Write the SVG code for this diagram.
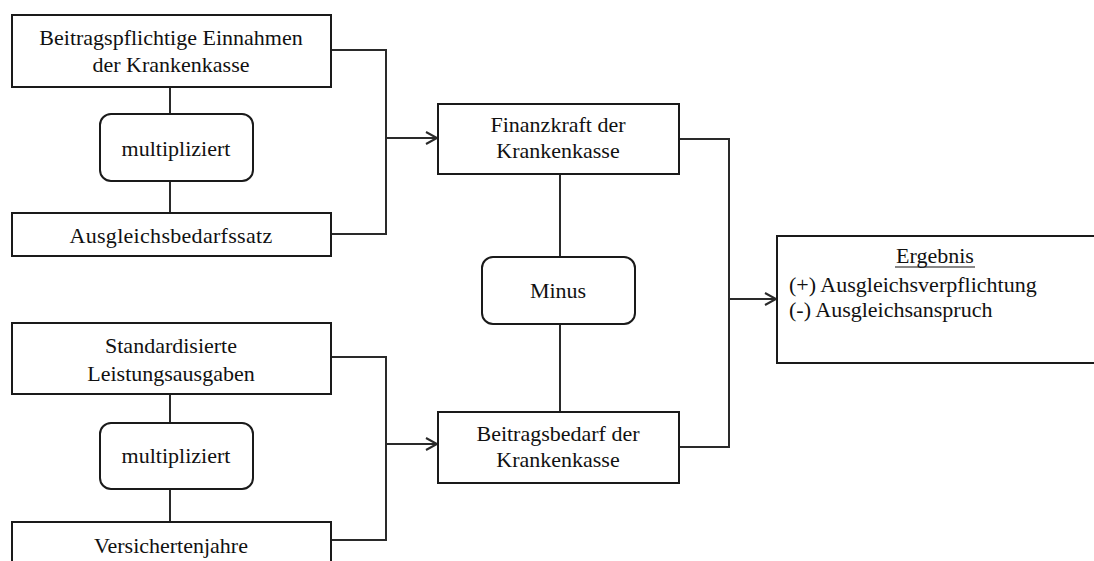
<svg xmlns="http://www.w3.org/2000/svg" width="1094" height="561" viewBox="0 0 1094 561">
<defs>
<style>
.box{fill:#fff;stroke:#1a1a1a;stroke-width:2}
text{font-family:'Liberation Serif','DejaVu Serif',serif;font-size:22px;fill:#111}
.t{text-anchor:middle}
.c{fill:none;stroke:#2a2a2a;stroke-width:2}
</style>
<marker id="arr" markerUnits="userSpaceOnUse" markerWidth="16" markerHeight="16" refX="12" refY="7" orient="auto">
<path d="M1,1 L12,7 L1,13" fill="none" stroke="#2a2a2a" stroke-width="2"/>
</marker>
</defs>
<rect width="1094" height="561" fill="#fff"/>
<g id="connectors">
<path class="c" d="M170,87 V114 M170,181 V213"/>
<path class="c" d="M170,394 V423 M170,489 V522"/>
<path class="c" d="M560,174 V257 M560,324 V412"/>
<path class="c" d="M331,50 H386 V234 H331"/>
<path class="c" d="M386,138 H437" marker-end="url(#arr)"/>
<path class="c" d="M331,357 H386 V540 H331"/>
<path class="c" d="M386,444 H437" marker-end="url(#arr)"/>
<path class="c" d="M679,139 H729 V447 H679"/>
<path class="c" d="M729,299 H776" marker-end="url(#arr)"/>
</g>
<g id="n1">
<rect class="box" x="12" y="15" width="319" height="72"/>
<text class="t" x="171" y="45">Beitragspflichtige  Einnahmen</text>
<text class="t" x="171" y="72">der Krankenkasse</text>
</g>
<g id="n2">
<rect class="box" x="100" y="114" width="153" height="67" rx="11"/>
<text class="t" x="176" y="156">multipliziert</text>
</g>
<g id="n3">
<rect class="box" x="12" y="213" width="319" height="43"/>
<text class="t" x="171" y="243" letter-spacing="0.3">Ausgleichsbedarfssatz</text>
</g>
<g id="n4">
<rect class="box" x="12" y="323" width="319" height="71"/>
<text class="t" x="171" y="353">Standardisierte</text>
<text class="t" x="171" y="381">Leistungsausgaben</text>
</g>
<g id="n5">
<rect class="box" x="100" y="423" width="153" height="66" rx="11"/>
<text class="t" x="176" y="463">multipliziert</text>
</g>
<g id="n6">
<rect class="box" x="12" y="522" width="319" height="50"/>
<text class="t" x="171" y="553">Versichertenjahre</text>
</g>
<g id="n7">
<rect class="box" x="438" y="104" width="241" height="70"/>
<text class="t" x="558" y="132">Finanzkraft der</text>
<text class="t" x="558" y="158">Krankenkasse</text>
</g>
<g id="n8">
<rect class="box" x="482" y="257" width="153" height="67" rx="11"/>
<text class="t" x="558" y="298">Minus</text>
</g>
<g id="n9">
<rect class="box" x="438" y="412" width="241" height="71"/>
<text class="t" x="558" y="441">Beitragsbedarf der</text>
<text class="t" x="558" y="467">Krankenkasse</text>
</g>
<g id="n10">
<rect class="box" x="777" y="236" width="330" height="127"/>
<text class="t" x="935" y="263">Ergebnis</text>
<line x1="895" y1="267" x2="975" y2="267" stroke="#111" stroke-width="1.2"/>
<text x="789" y="292">(+) Ausgleichsverpflichtung</text>
<text x="789" y="317">(-) Ausgleichsanspruch</text>
</g>
</svg>
